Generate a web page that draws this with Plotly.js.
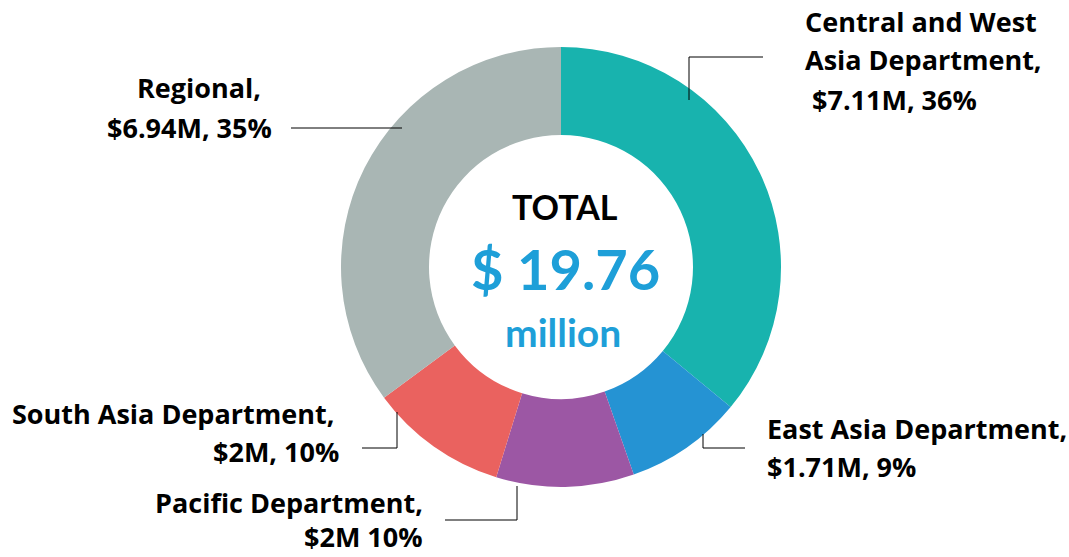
<!DOCTYPE html>
<html>
<head>
<meta charset="utf-8">
<script src="https://cdn.plot.ly/plotly-3.0.1.min.js"></script>
<style>html,body{margin:0;padding:0;background:#fff;}#chart{width:1069px;height:557px;}</style>
</head>
<body>
<div id="chart"></div>
<script>
var departments = ["Central and West Asia Department", "East Asia Department", "Pacific Department", "South Asia Department", "Regional"];
var amounts = [7.11, 1.71, 2.00, 2.00, 6.94];
var percents = [36, 9, 10, 10, 35];
var colors = ["#18B3AE", "#2593D3", "#9C57A4", "#EA625F", "#A9B6B4"];
var totalText = "$ 19.76";

var W = 1069, H = 557;
function px(x){ return x / W; }
function py(y){ return 1 - y / H; }

var FONT = "Lato, 'Open Sans', sans-serif";
var LFONT = "'Open Sans', Lato, sans-serif";
var labelFont = {family: LFONT, size: 27, color: "#000"};

function lbl(text, x, y, anchor){
  return {text: "<b>" + text + "</b>", x: px(x), y: py(y), xref: "paper", yref: "paper",
    xanchor: anchor, yanchor: "middle", showarrow: false, font: labelFont};
}

var annotations = [
  lbl("Central and West", 803, 22, "left"),
  lbl("Asia Department,", 803, 60, "left"),
  lbl("$" + amounts[0] + "M, " + percents[0] + "%", 810, 99, "left"),
  lbl("East Asia Department,", 765, 428, "left"),
  lbl("$" + amounts[1] + "M, " + percents[1] + "%", 765, 466, "left"),
  lbl("Pacific Department,", 425, 502, "right"),
  {text: "<b>$" + amounts[2] + "M " + percents[2] + "%</b>", x: px(425), y: 0, xref: "paper", yref: "paper",
    xanchor: "right", yanchor: "bottom", yshift: 0, showarrow: false, font: labelFont},
  lbl("South Asia Department,", 336, 413, "right"),
  lbl("$" + amounts[3] + "M, " + percents[3] + "%", 341, 451, "right"),
  lbl("Regional,", 263, 88, "right"),
  lbl("$" + amounts[4] + "M, " + percents[4] + "%", 274, 127, "right"),
  {text: "<b>TOTAL</b>", x: px(565), y: py(206), xref: "paper", yref: "paper", xanchor: "center", yanchor: "middle",
    showarrow: false, font: {family: FONT, size: 34, color: "#000"}},
  {text: "<b>" + totalText + "</b>", x: px(565), y: py(268), xref: "paper", yref: "paper", xanchor: "center", yanchor: "middle",
    showarrow: false, font: {family: FONT, size: 56, color: "#1E9FD8"}},
  {text: "<b>million</b>", x: px(563), y: py(332), xref: "paper", yref: "paper", xanchor: "center", yanchor: "middle",
    showarrow: false, font: {family: FONT, size: 39, color: "#1E9FD8"}}
];

function seg(x0, y0, x1, y1){
  return {type: "line", xref: "paper", yref: "paper", x0: px(x0), y0: py(y0), x1: px(x1), y1: py(y1),
    line: {color: "#000", width: 1}};
}
var shapes = [
  seg(689, 100, 689, 57), seg(689, 57, 763, 57),
  seg(291, 128, 402, 128),
  seg(397, 412, 397, 448), seg(397, 448, 362, 448),
  seg(517, 486, 517, 520), seg(517, 520, 445, 520),
  seg(703, 434, 703, 448), seg(703, 448, 745, 448)
];

var trace = {
  type: "pie",
  labels: departments,
  values: amounts,
  sort: false,
  direction: "clockwise",
  rotation: 0,
  hole: 0.6,
  textinfo: "none",
  hoverinfo: "label+value+percent",
  marker: {colors: colors, line: {color: "#fff", width: 0}},
  domain: {x: [px(341), px(781)], y: [py(487), py(47)]},
  showlegend: false
};

var layout = {
  width: W, height: H,
  margin: {l: 0, r: 0, t: 0, b: 0},
  paper_bgcolor: "#fff",
  showlegend: false,
  annotations: annotations,
  shapes: shapes
};

Plotly.newPlot("chart", [trace], layout, {displayModeBar: false, staticPlot: true});
</script>
</body>
</html>
